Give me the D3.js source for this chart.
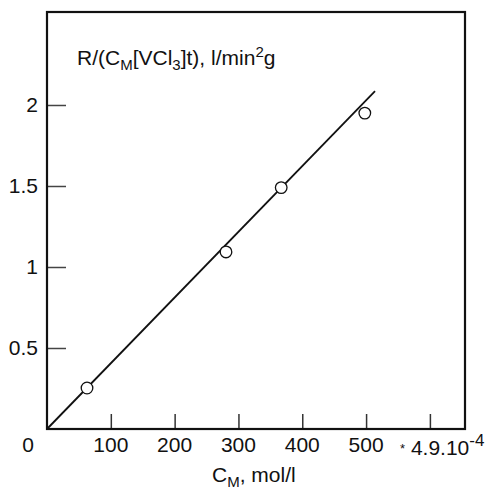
<!DOCTYPE html>
<html>
<head>
<meta charset="utf-8">
<script src="https://cdn.jsdelivr.net/npm/d3@7"></script>
<style>
  html, body { margin: 0; padding: 0; background: #fff; }
  svg { display: block; }
  text { font-family: "Liberation Sans", Arial, Helvetica, sans-serif; fill: #111; }
</style>
</head>
<body>
<svg id="chart" width="490" height="491"></svg>
<script>
// ---- data ----
const pointsX = [62.7, 280.5, 367, 498];
const pointsY = [0.253, 1.093, 1.49, 1.95];
const lineX = [0, 514];
const lineY = [0, 2.086];
const xTicks = [100, 200, 300, 400, 500, 600];
const xTickLabels = ["100", "200", "300", "400", "500"];
const yTicks = [0.5, 1, 1.5, 2];
const yTickLabels = ["0.5", "1", "1.5", "2"];
const xDomain = [0, 655];
const yDomain = [0, 2.574];

// ---- layout ----
const svg = d3.select("#chart");
const L = 47, R = 465, T = 12, B = 429;
const FS = 21, SFS = 15;
const x = d3.scaleLinear().domain(xDomain).range([L, R]);
const y = d3.scaleLinear().domain(yDomain).range([B, T]);

// x ticks (inward)
const xAxis = d3.axisTop(x).tickValues(xTicks).tickSize(15).tickFormat("");
const gx = svg.append("g").attr("transform", `translate(0,${B})`).call(xAxis);
gx.select(".domain").remove();
gx.selectAll("line").attr("stroke", "#333").attr("stroke-width", 1.5);

// y ticks (inward)
const yAxis = d3.axisRight(y).tickValues(yTicks).tickSize(19).tickFormat("");
const gy = svg.append("g").attr("transform", `translate(${L},0)`).call(yAxis);
gy.select(".domain").remove();
gy.selectAll("line").attr("stroke", "#444").attr("stroke-width", 1.5);

// frame
svg.append("rect")
  .attr("x", L).attr("y", T).attr("width", R - L).attr("height", B - T)
  .attr("fill", "none").attr("stroke", "#111").attr("stroke-width", 2.2);

// x tick labels
svg.append("g").selectAll("text").data(xTickLabels).join("text")
  .attr("x", (d, i) => x(xTicks[i]))
  .attr("y", 452)
  .attr("text-anchor", "middle")
  .attr("font-size", FS)
  .text(d => d);

// origin label
svg.append("text").attr("x", 28).attr("y", 452)
  .attr("text-anchor", "middle").attr("font-size", FS).text("0");

// y tick labels
svg.append("g").selectAll("text").data(yTickLabels).join("text")
  .attr("x", 38)
  .attr("y", (d, i) => y(yTicks[i]) + 7.5)
  .attr("text-anchor", "end")
  .attr("font-size", FS)
  .text(d => d);

// multiplier label "* 4.9.10^-4"
const mult = svg.append("text").attr("x", 400).attr("y", 455).attr("font-size", FS);
mult.append("tspan").attr("font-size", 13).attr("dy", -2).text("*");
mult.append("tspan").attr("dy", 2).text(" 4.9.10");
mult.append("tspan").attr("font-size", 17).attr("dy", -9).text("-4");

// x axis title C_M, mol/l
const xt = svg.append("text").attr("x", 212).attr("y", 482).attr("font-size", FS);
xt.append("tspan").text("C");
xt.append("tspan").attr("font-size", SFS).attr("dy", 5).text("M");
xt.append("tspan").attr("dy", -5).text(", mol/l");

// y axis title inside plot
const yt = svg.append("text").attr("x", 77).attr("y", 65).attr("font-size", FS);
yt.append("tspan").text("R/(C");
yt.append("tspan").attr("font-size", SFS).attr("dy", 5).text("M");
yt.append("tspan").attr("dy", -5).text("[VCl");
yt.append("tspan").attr("font-size", SFS).attr("dy", 5).text("3");
yt.append("tspan").attr("dy", -5).text("]t), l/min");
yt.append("tspan").attr("font-size", SFS).attr("dy", -8).text("2");
yt.append("tspan").attr("dy", 8).text("g");

// fitted line
const lineData = lineX.map((d, i) => [d, lineY[i]]);
svg.append("path")
  .datum(lineData)
  .attr("d", d3.line().x(d => x(d[0])).y(d => y(d[1])))
  .attr("fill", "none").attr("stroke", "#111").attr("stroke-width", 1.8);

// points
svg.append("g").selectAll("circle").data(pointsX).join("circle")
  .attr("cx", d => x(d))
  .attr("cy", (d, i) => y(pointsY[i]))
  .attr("r", 5.8)
  .attr("fill", "#fff").attr("stroke", "#111").attr("stroke-width", 1.3);
</script>
</body>
</html>
